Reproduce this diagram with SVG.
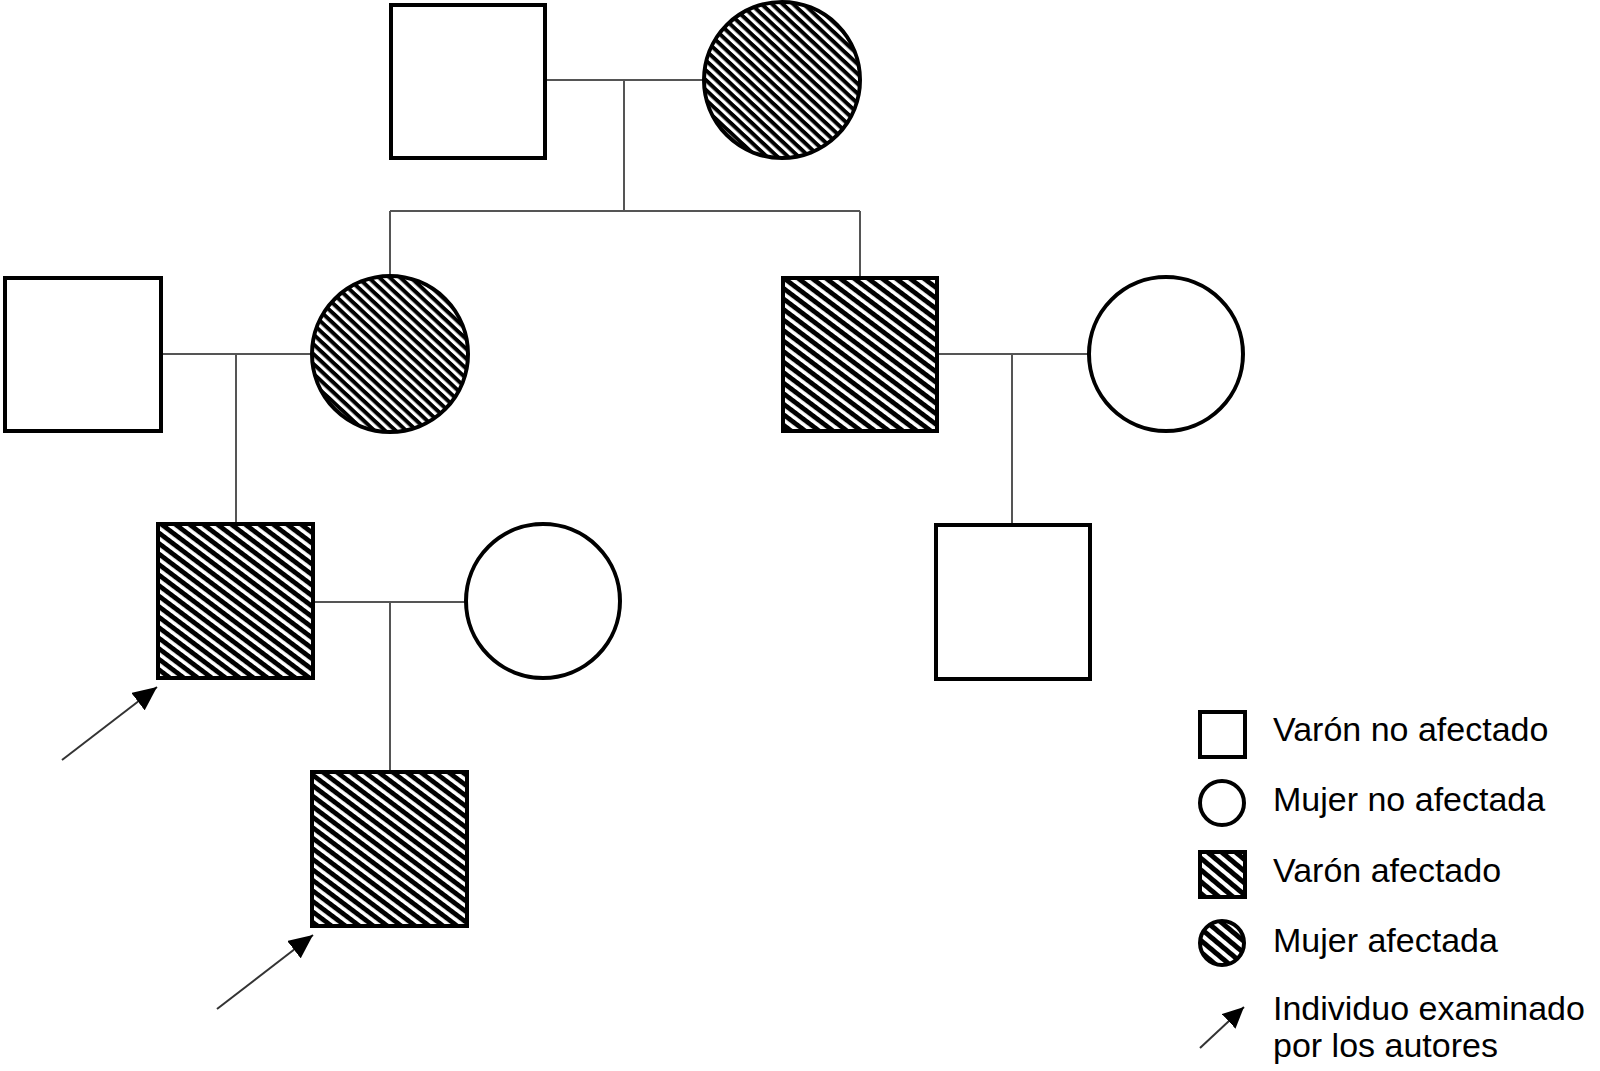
<svg xmlns="http://www.w3.org/2000/svg" width="1600" height="1071" viewBox="0 0 1600 1071">
<style>
.nd{stroke:#000;stroke-width:4;fill:#fff}
.aff{fill:url(#hatchSq)}
.affc{fill:url(#hatchCi)}
.ln{stroke:#555;stroke-width:2;fill:none}
.ar{stroke:#333;stroke-width:2;fill:none}
.lbl{font-family:"Liberation Sans",Arial,sans-serif;font-size:34px;fill:#000}
</style>
<defs>
<pattern id="hatchSq" patternUnits="userSpaceOnUse" width="8.4" height="8.4" patternTransform="rotate(37)">
<rect width="8.4" height="8.4" fill="#fff"/><rect width="8.4" height="4.8" fill="#000"/>
</pattern>
<pattern id="hatchCi" patternUnits="userSpaceOnUse" width="7.2" height="7.2" patternTransform="rotate(43)">
<rect width="7.2" height="7.2" fill="#fff"/><rect width="7.2" height="4" fill="#000"/>
</pattern>
<pattern id="hatchLg" patternUnits="userSpaceOnUse" width="9" height="9" patternTransform="rotate(40)">
<rect width="9" height="9" fill="#fff"/><rect width="9" height="5" fill="#000"/>
</pattern>
<marker id="ah" markerUnits="userSpaceOnUse" markerWidth="26" markerHeight="22" refX="24" refY="11" orient="auto">
<path d="M0,0 L24,11 L0,22 Z" fill="#000"/>
</marker>
<marker id="ahs" markerUnits="userSpaceOnUse" markerWidth="22" markerHeight="20" refX="21" refY="10" orient="auto">
<path d="M0,0 L21,10 L0,20 Z" fill="#000"/>
</marker>
</defs>
<rect width="1600" height="1071" fill="#fff"/>

<g id="connectors">
<line class="ln" x1="545" y1="80" x2="704" y2="80"/>
<line class="ln" x1="624" y1="80" x2="624" y2="211"/>
<line class="ln" x1="390" y1="211" x2="860" y2="211"/>
<line class="ln" x1="390" y1="211" x2="390" y2="275"/>
<line class="ln" x1="860" y1="211" x2="860" y2="276"/>
<line class="ln" x1="161" y1="354" x2="310" y2="354"/>
<line class="ln" x1="236" y1="354" x2="236" y2="522"/>
<line class="ln" x1="937" y1="354" x2="1088" y2="354"/>
<line class="ln" x1="1012" y1="354" x2="1012" y2="523"/>
<line class="ln" x1="313" y1="602" x2="466" y2="602"/>
<line class="ln" x1="390" y1="602" x2="390" y2="770"/>
<line class="ar" x1="62" y1="760" x2="157" y2="687" marker-end="url(#ah)"/>
<line class="ar" x1="217" y1="1009" x2="313" y2="935" marker-end="url(#ah)"/>
</g>

<g id="gen1-father"><rect class="nd" x="391" y="5" width="154" height="153"/></g>
<g id="gen1-mother"><circle class="nd affc" cx="782" cy="80" r="78"/></g>

<g id="gen2-husband"><rect class="nd" x="5" y="278" width="156" height="153"/></g>
<g id="gen2-daughter"><circle class="nd affc" cx="390" cy="354" r="78"/></g>
<g id="gen2-son"><rect class="nd aff" x="783" y="278" width="154" height="153"/></g>
<g id="gen2-wife"><circle class="nd" cx="1166" cy="354" r="77"/></g>

<g id="gen3-son-affected"><rect class="nd aff" x="158" y="524" width="155" height="154"/></g>
<g id="gen3-wife"><circle class="nd" cx="543" cy="601" r="77"/></g>
<g id="gen3-son-unaffected"><rect class="nd" x="936" y="525" width="154" height="154"/></g>

<g id="gen4-son"><rect class="nd aff" x="312" y="772" width="155" height="154"/></g>

<g id="legend">
<rect class="nd" x="1200" y="712" width="45" height="45"/>
<circle class="nd" cx="1222" cy="803" r="22"/>
<rect class="nd" x="1200" y="852" width="45" height="45" style="fill:url(#hatchLg)"/>
<circle class="nd" cx="1222" cy="943" r="22" style="fill:url(#hatchLg)"/>
<line class="ar" x1="1200" y1="1048" x2="1244" y2="1007" marker-end="url(#ahs)"/>
<text class="lbl" x="1273" y="741">Varón no afectado</text>
<text class="lbl" x="1273" y="811">Mujer no afectada</text>
<text class="lbl" x="1273" y="882">Varón afectado</text>
<text class="lbl" x="1273" y="952">Mujer afectada</text>
<text class="lbl" x="1273" y="1020">Individuo examinado</text>
<text class="lbl" x="1273" y="1057">por los autores</text>
</g>
</svg>
